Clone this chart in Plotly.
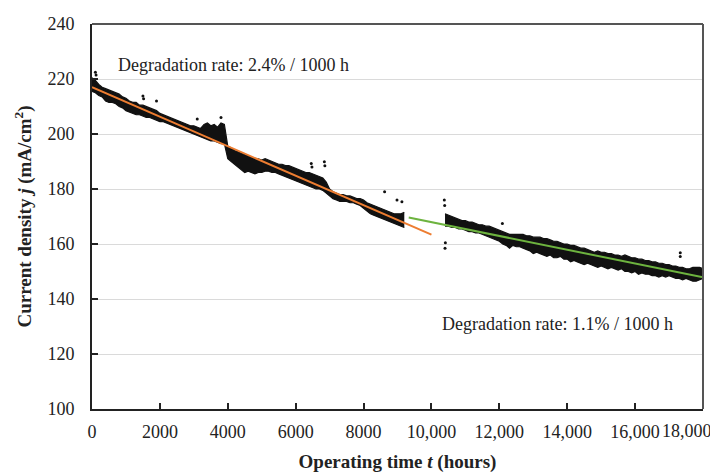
import plotly.graph_objects as go

# ---------------- data ----------------
# Phase 1: 0 - 9200 h, every 100 h, upper / lower edge of the measured band
t1 = list(range(0, 9300, 100))
hi1 = [220.5, 219.5, 218.0, 217.0, 216.5, 216.0, 215.5, 215.0, 214.5, 213.5,
       213.0, 212.0, 211.5, 211.5, 210.5, 210.5, 210.0, 209.5, 209.0, 208.5,
       207.5, 207.0, 206.5, 206.0, 205.5, 205.0, 204.5, 204.0, 203.5, 203.0,
       203.0, 202.5, 202.0, 203.5, 204.0, 203.0, 203.5, 202.5, 204.0, 203.5,
       195.5, 195.0, 194.0, 193.5, 193.0, 192.5, 192.0, 191.5, 191.0, 191.0,
       190.5, 191.0, 190.5, 190.0, 189.5, 189.0, 189.0, 188.5, 188.5, 188.0,
       187.5, 187.0, 186.5, 186.0, 186.0, 185.5, 185.0, 184.5, 184.0, 182.5,
       180.0, 179.0, 178.5, 178.0, 178.0, 177.5, 177.5, 177.0, 176.5, 176.5,
       176.0, 175.0, 174.5, 174.0, 173.5, 173.0, 172.5, 172.0, 171.5, 171.0,
       171.0, 171.0, 171.5]
lo1 = [215.5, 215.0, 214.0, 213.5, 212.0, 211.5, 211.5, 211.0, 210.0, 209.5,
       208.5, 208.0, 207.5, 207.0, 207.0, 206.5, 206.0, 206.0, 205.5, 205.0,
       204.5, 204.5, 204.0, 203.5, 203.0, 202.5, 202.0, 201.5, 201.0, 200.5,
       200.0, 199.5, 199.0, 198.5, 198.0, 197.5, 197.5, 197.0, 196.5, 196.5,
       191.0, 190.0, 189.0, 188.0, 187.0, 186.0, 186.5, 186.0, 185.5, 186.0,
       186.0, 186.5, 186.5, 186.0, 186.0, 185.5, 185.0, 184.5, 184.0, 183.5,
       183.0, 182.5, 182.0, 181.5, 181.0, 180.5, 180.0, 180.0, 179.5, 178.5,
       177.5, 176.5, 176.0, 175.5, 175.5, 175.5, 175.0, 175.0, 174.5, 174.0,
       173.0, 172.0, 171.0, 170.5, 170.0, 169.5, 169.0, 168.5, 168.0, 167.5,
       167.0, 166.5, 166.0]

# Phase 2: 10400 - 18000 h, every 100 h
t2 = list(range(10400, 18100, 100))
hi2 = [171.0, 170.5, 170.0, 169.5, 169.0, 168.5, 168.5, 168.0, 168.0, 167.5,
       167.0, 167.0, 166.5, 166.5, 166.0, 165.5, 165.0, 164.5, 164.0, 163.5,
       163.5, 163.5, 163.5, 163.5, 163.0, 163.0, 162.5, 162.5, 162.5, 162.0,
       162.0, 161.5, 161.0, 161.0, 160.5, 160.0, 160.0, 159.5, 159.5, 159.0,
       158.5, 158.5, 158.0, 157.5, 157.0, 157.5, 157.0, 157.0, 156.5, 156.5,
       156.0, 156.0, 155.5, 156.0, 155.5, 155.0, 155.0, 154.5, 154.5, 154.0,
       154.0, 153.5, 153.5, 153.0, 153.0, 152.5, 152.5, 152.0, 152.0, 151.5,
       151.5, 151.0, 151.0, 151.5, 151.5, 151.5, 151.0]
lo2 = [166.5, 166.5, 166.0, 166.0, 165.5, 165.5, 165.0, 164.5, 164.5, 164.0,
       164.0, 163.5, 163.0, 162.5, 162.0, 161.5, 161.0, 160.0, 159.5, 158.5,
       159.5, 159.0, 159.0, 158.5, 158.0, 157.5, 156.5, 157.0, 156.5, 156.0,
       155.5, 156.0, 155.0, 155.0, 155.5, 154.5, 154.5, 153.5, 154.0, 153.5,
       153.0, 152.5, 153.0, 152.5, 152.0, 151.5, 152.0, 151.5, 151.0, 151.5,
       151.0, 150.5, 151.0, 150.0, 150.0, 149.5, 150.0, 149.0, 149.5, 149.0,
       149.0, 148.5, 148.5, 148.0, 148.5, 148.0, 148.5, 148.0, 147.5, 147.5,
       147.0, 147.5, 147.0, 146.5, 146.5, 147.0, 147.5]

# isolated readings (spikes / outliers)
out_t = [100, 120, 1500, 1520, 1900, 3100, 3800, 6460, 6480, 6845, 6860,
         8620, 8985, 9130, 10380, 10390, 10400, 10410, 12090, 17330, 17330]
out_j = [222.5, 221.5, 213.8, 212.8, 212.0, 205.5, 206.0, 189.3, 188.0, 189.9, 188.5,
         179.0, 176.0, 175.4, 176.0, 174.0, 158.5, 160.5, 167.5, 156.8, 155.5]

# fitted trend lines
fit1_t = [0, 10000]
fit1_j = [217.0, 163.4]
fit2_t = [9330, 18000]
fit2_j = [169.6, 147.9]

x_ticks = [0, 2000, 4000, 6000, 8000, 10000, 12000, 14000, 16000, 18000]
x_tick_text = ["0", "2000", "4000", "6000", "8000", "10,000", "12,000",
               "14,000", "16,000", ""]
last_tick_label = "18,000"   # drawn right-aligned at the last tick, as in the source
y_ticks = [100, 120, 140, 160, 180, 200, 220, 240]

FONT = "Liberation Serif"

fig = go.Figure()

for tt, lo, hi in [(t1, lo1, hi1), (t2, lo2, hi2)]:
    fig.add_trace(go.Scatter(x=tt, y=lo, mode="lines",
                             line=dict(color="#111111", width=1.2),
                             hoverinfo="skip", showlegend=False))
    fig.add_trace(go.Scatter(x=tt, y=hi, mode="lines", fill="tonexty",
                             fillcolor="#111111",
                             line=dict(color="#111111", width=1.2),
                             hoverinfo="skip", showlegend=False))

fig.add_trace(go.Scatter(x=out_t, y=out_j, mode="markers",
                         marker=dict(color="#111111", size=3),
                         showlegend=False))

fig.add_trace(go.Scatter(x=fit1_t, y=fit1_j, mode="lines",
                         line=dict(color="#ED7D31", width=2), showlegend=False))
fig.add_trace(go.Scatter(x=fit2_t, y=fit2_j, mode="lines",
                         line=dict(color="#6DB33F", width=2), showlegend=False))

fig.add_annotation(x=4160, y=225.1, text="Degradation rate: 2.4% / 1000 h",
                   showarrow=False, font=dict(family=FONT, size=18, color="#222"))
fig.add_annotation(x=13700, y=130.8, text="Degradation rate: 1.1% / 1000 h",
                   showarrow=False, font=dict(family=FONT, size=18, color="#222"))
fig.add_annotation(x=x_ticks[-1], xref="x", y=0, yref="paper",
                   text=last_tick_label, showarrow=False,
                   xanchor="right", yanchor="middle", xshift=11, yshift=-22,
                   font=dict(family=FONT, size=18, color="#222"))

# top and right frame lines (grey)
fig.add_shape(type="line", xref="paper", yref="paper", x0=0, x1=1, y0=1, y1=1,
              line=dict(color="#555555", width=2))
fig.add_shape(type="line", xref="paper", yref="paper", x0=1, x1=1, y0=0, y1=1,
              line=dict(color="#555555", width=2))

# the page body adds an 8 px offset, so the figure is 8 px smaller
fig.update_layout(
    width=710, height=465,
    margin=dict(l=84, r=15, t=16, b=64, autoexpand=False),
    paper_bgcolor="white", plot_bgcolor="white",
    font=dict(family=FONT, size=18, color="#222"),
    xaxis=dict(range=[0, 18000], tickvals=x_ticks, ticktext=x_tick_text,
               showgrid=False, zeroline=False, showline=True, automargin=False,
               linecolor="#222", linewidth=2, ticks="inside", ticklen=6,
               tickcolor="#222", tickwidth=1.5, ticklabelstandoff=5,
               tickfont=dict(family=FONT, size=18),
               title=dict(text="<b>Operating time <i>t</i> (hours)</b>",
                          font=dict(family=FONT, size=19), standoff=31)),
    yaxis=dict(range=[100, 240], tickvals=y_ticks, automargin=False,
               showgrid=True, gridcolor="#DADADA", gridwidth=1,
               zeroline=False, showline=True, linecolor="#222", linewidth=2,
               ticks="inside", ticklen=6, tickcolor="#222", tickwidth=1.5,
               ticklabelstandoff=12,
               tickfont=dict(family=FONT, size=18),
               title=dict(text="<b>Current density <i>j</i> (mA/cm<sup>2</sup>)</b>",
                          font=dict(family=FONT, size=19), standoff=11)),
)

fig.write_html("out.html")
